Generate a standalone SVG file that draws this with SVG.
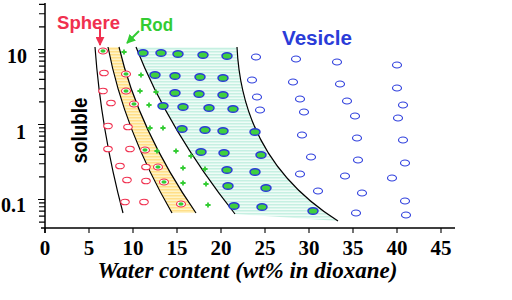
<svg xmlns="http://www.w3.org/2000/svg" width="512" height="300" viewBox="0 0 512 300">
<style>
.ax{stroke:#000;stroke-width:1.5;fill:none}
.tk{stroke:#000;stroke-width:1.1;fill:none}
.bd{stroke:#000;stroke-width:1.2;fill:none}
.num{font-family:"Liberation Serif","Times New Roman",serif;font-weight:bold;fill:#000}
.lab{font-family:"Liberation Sans",Arial,sans-serif;font-weight:bold}
.rr{fill:#fff;stroke:#f0304f;stroke-width:1.1}
.bb{fill:none;stroke:#3040dd;stroke-width:1.1}
.bg{fill:#3fcf3f;stroke:#2a3cd6;stroke-width:1.5}
.gp{stroke:#33cc33;stroke-width:1.8;fill:none}
.gc{fill:#33cc33}
</style>
<defs>
<pattern id="stY" width="4" height="3" patternUnits="userSpaceOnUse"><rect width="4" height="3" fill="#fff3c6"/><rect width="4" height="1.5" fill="#ffdf88"/></pattern>
<pattern id="stC" width="4" height="3" patternUnits="userSpaceOnUse"><rect width="4" height="3" fill="#effcf7"/><rect width="4" height="1.5" fill="#c6f0e2"/></pattern>
<marker id="ahR" viewBox="0 0 10 10" refX="9" refY="5" markerWidth="9" markerHeight="9" markerUnits="userSpaceOnUse" orient="auto"><path d="M0,0L10,5L0,10z" fill="#f0304f"/></marker>
<marker id="ahG" viewBox="0 0 10 10" refX="9" refY="5" markerWidth="9" markerHeight="9" markerUnits="userSpaceOnUse" orient="auto"><path d="M0,0L10,5L0,10z" fill="#33cc33"/></marker>
<g id="mR"><ellipse rx="4.3" ry="2.8" class="rr"/></g>
<g id="mRG"><ellipse rx="4.5" ry="3" class="rr"/><ellipse rx="2.6" ry="1.7" class="gc"/></g>
<g id="mG"><path d="M-2.6,0H2.6M0,-2.6V2.6" class="gp"/></g>
<g id="mBG"><ellipse rx="5" ry="3.3" class="bg"/></g>
<g id="mB"><ellipse rx="4.5" ry="3" class="bb"/></g>
</defs>
<rect width="512" height="300" fill="#fff"/>

<g id="regions">
<path d="M108,47L119,47Q138.5,130 196,213L172,213Q124,130 108,47Z" fill="url(#stY)"/>
<path d="M136,47L237,47C240,110 265,175 338,221L235,214Q168.5,130 136,47Z" fill="url(#stC)"/>
</g>

<g id="boundaries">
<path class="bd" d="M95,47Q101,130 123,213"/>
<path class="bd" d="M108,47Q124,130 172,213"/>
<path class="bd" d="M119,47Q138.5,130 196,213"/>
<path class="bd" d="M136,47Q168.5,130 235,214"/>
<path class="bd" d="M237,47C240,110 265,175 338,221"/>
</g>

<g id="axes">
<path class="ax" d="M45,3V233M41,228H455"/>
<path class="tk" d="M39,4.4H45M39,13.7H45M39,26.9H45M38,49.5H45M39,52.9H45M39,56.8H45M39,61.1H45M39,66.1H45M39,72.1H45M39,79.4H45M39,88.7H45M39,101.9H45M38,124.5H45M39,127.9H45M39,131.8H45M39,136.1H45M39,141.1H45M39,147.1H45M39,154.4H45M39,163.7H45M39,176.9H45M38,199.5H45M39,202.9H45M39,206.8H45M39,211.1H45M39,216.1H45M39,222.1H45"/>
<path class="tk" d="M45,228V233M89,228V233M133,228V233M177,228V233M221,228V233M265,228V233M309,228V233M353,228V233M397,228V233M441,228V233"/>
<g class="num" font-size="20" text-anchor="end">
<text x="27" y="63">10</text>
<text x="26" y="139">1</text>
<text x="26" y="212">0.1</text>
</g>
<g class="num" font-size="21" text-anchor="middle">
<text x="45" y="255">0</text>
<text x="89" y="255">5</text>
<text x="133" y="255">10</text>
<text x="177" y="255">15</text>
<text x="221" y="255">20</text>
<text x="265" y="255">25</text>
<text x="309" y="255">30</text>
<text x="353" y="255">35</text>
<text x="397" y="255">40</text>
<text x="441" y="255">45</text>
</g>
<text class="num" font-style="italic" font-size="23" x="247.5" y="278" text-anchor="middle">Water content (wt% in dioxane)</text>
</g>

<g id="sphere-points">
<use href="#mR" x="104" y="73"/><use href="#mR" x="103" y="91"/><use href="#mR" x="111" y="103"/>
<use href="#mR" x="108" y="126"/><use href="#mR" x="128" y="127"/><use href="#mR" x="108" y="149"/>
<use href="#mR" x="130" y="149"/><use href="#mR" x="120" y="166"/><use href="#mR" x="146" y="167"/>
<use href="#mR" x="127" y="180"/><use href="#mR" x="146" y="181"/><use href="#mR" x="125" y="202"/>
<use href="#mR" x="144" y="202"/>
</g>
<g id="sphere-rod-points">
<use href="#mRG" x="103" y="51"/><use href="#mRG" x="126" y="74"/><use href="#mRG" x="126" y="91"/>
<use href="#mRG" x="134" y="104"/><use href="#mRG" x="145" y="150"/><use href="#mRG" x="158" y="167"/>
<use href="#mRG" x="164" y="182"/><use href="#mRG" x="181" y="204"/>
</g>
<g id="rod-points">
<use href="#mG" x="124" y="52"/><use href="#mG" x="141" y="75"/><use href="#mG" x="140" y="91"/>
<use href="#mG" x="156" y="92"/><use href="#mG" x="149" y="105"/><use href="#mG" x="150" y="128"/>
<use href="#mG" x="163" y="128"/><use href="#mG" x="157" y="151"/><use href="#mG" x="176" y="151"/>
<use href="#mG" x="191" y="156"/><use href="#mG" x="183" y="168"/><use href="#mG" x="205" y="169"/>
<use href="#mG" x="183" y="183"/><use href="#mG" x="206" y="184"/><use href="#mG" x="208" y="205"/>
</g>
<g id="rod-vesicle-points">
<use href="#mBG" x="143" y="53"/><use href="#mBG" x="161" y="53"/><use href="#mBG" x="178" y="54"/><use href="#mBG" x="203" y="55"/><use href="#mBG" x="227" y="56"/>
<use href="#mBG" x="155" y="75"/><use href="#mBG" x="175" y="76"/><use href="#mBG" x="200" y="77"/><use href="#mBG" x="223" y="78"/>
<use href="#mBG" x="175" y="93"/><use href="#mBG" x="199" y="94"/><use href="#mBG" x="223" y="95"/>
<use href="#mBG" x="163" y="106"/><use href="#mBG" x="183" y="107"/><use href="#mBG" x="209" y="108"/><use href="#mBG" x="233" y="109"/>
<use href="#mBG" x="182" y="129"/><use href="#mBG" x="205" y="130"/><use href="#mBG" x="223" y="131"/><use href="#mBG" x="255" y="132"/>
<use href="#mBG" x="201" y="152"/><use href="#mBG" x="224" y="153"/><use href="#mBG" x="261" y="155"/>
<use href="#mBG" x="227" y="170"/><use href="#mBG" x="255" y="172"/>
<use href="#mBG" x="228" y="186"/><use href="#mBG" x="266" y="188"/>
<use href="#mBG" x="234" y="206"/><use href="#mBG" x="262" y="207"/><use href="#mBG" x="313" y="211"/>
</g>
<g id="vesicle-points">
<use href="#mB" x="256" y="57"/><use href="#mB" x="296" y="59"/><use href="#mB" x="337" y="62"/><use href="#mB" x="397" y="65"/>
<use href="#mB" x="252" y="80"/><use href="#mB" x="293" y="82"/><use href="#mB" x="340" y="84"/><use href="#mB" x="397" y="88"/>
<use href="#mB" x="257" y="97"/><use href="#mB" x="300" y="99"/><use href="#mB" x="347" y="101"/><use href="#mB" x="403" y="105"/>
<use href="#mB" x="260" y="110"/><use href="#mB" x="304" y="112"/><use href="#mB" x="355" y="116"/><use href="#mB" x="398" y="118"/>
<use href="#mB" x="302" y="135"/><use href="#mB" x="357" y="138"/><use href="#mB" x="403" y="140"/>
<use href="#mB" x="311" y="157"/><use href="#mB" x="358" y="160"/><use href="#mB" x="405" y="163"/>
<use href="#mB" x="300" y="174"/><use href="#mB" x="345" y="176"/><use href="#mB" x="392" y="178"/>
<use href="#mB" x="318" y="191"/><use href="#mB" x="362" y="193"/><use href="#mB" x="405" y="201"/>
<use href="#mB" x="356" y="213"/><use href="#mB" x="406" y="215"/>
</g>

<g id="labels">
<text class="lab" x="57" y="29" font-size="19" fill="#f0304f" textLength="63" lengthAdjust="spacingAndGlyphs">Sphere</text>
<text class="lab" x="140" y="31" font-size="19" fill="#33cc33" textLength="33" lengthAdjust="spacingAndGlyphs">Rod</text>
<text class="lab" x="282" y="45" font-size="20" fill="#2a3cd8" textLength="70" lengthAdjust="spacingAndGlyphs">Vesicle</text>
<text class="lab" transform="translate(87,130.5) rotate(-90)" x="0" y="0" font-size="22" fill="#000" text-anchor="middle" textLength="66" lengthAdjust="spacingAndGlyphs" font-family="DejaVu Sans, sans-serif">soluble</text>
</g>
<g id="connectors">
<path d="M100,28V45" stroke="#f0304f" stroke-width="2" marker-end="url(#ahR)"/>
<path d="M139,31L127,43" stroke="#33cc33" stroke-width="2" marker-end="url(#ahG)"/>
</g>
</svg>
